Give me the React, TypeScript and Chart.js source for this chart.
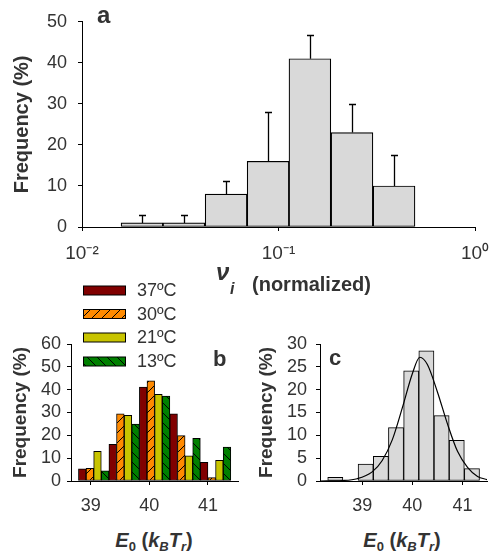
import React, { useEffect, useRef } from 'react';
import { Chart, registerables } from 'chart.js';

Chart.register(...registerables);

const FONT = "'Liberation Sans', Arial, Helvetica, sans-serif";
const TEXT = '#333333';

// ---------- Panel a : nu_i histogram (log axis) ----------
const nuBinCenters = [0.0202, 0.0330, 0.0541, 0.0885, 0.1445, 0.2366, 0.3873];
const nuFreq = [1, 1, 8, 16, 41, 23, 10];
const nuErrUpper = [3, 3, 11.3, 28, 46.7, 30, 17.6];
const nuTicks = [0.01, 0.1, 1];
const nuTickLabels = ['10\u207B\u00B2', '10\u207B\u00B9', '10\u2070'];

// ---------- Panel b : E0 by temperature ----------
const tempLabels = ['37\u00BAC', '30\u00BAC', '21\u00BAC', '13\u00BAC'];
const e0GroupCenters = [39.05, 39.57, 40.09, 40.61, 41.13];
const freq37 = [5.3, 16.1, 41.1, 29.4, 8.2];
const freq30 = [5.6, 29.4, 43.9, 19.9, 1.5];
const freq21 = [13.0, 28.8, 38.0, 11.0, 9.1];
const freq13 = [4.5, 24.9, 37.2, 18.7, 14.9];
const bTicks = [39, 40, 41];

// ---------- Panel c : pooled E0 histogram + fit ----------
const e0BinCenters = [38.465, 38.768, 39.07, 39.373, 39.675, 39.978, 40.28, 40.583, 40.885, 41.188];
const e0Freq = [0.8, 0, 3.7, 5.4, 11.7, 24.1, 28.5, 14.3, 8.9, 2.7];
const fitX = [38.16, 38.6, 38.9, 39.2, 39.4, 39.6, 39.8, 40.0, 40.15, 40.3, 40.5, 40.7, 40.9, 41.1, 41.3, 41.49];
const fitY = [0, 0.1, 0.5, 2.0, 4.5, 9.0, 16.0, 23.5, 27.1, 25.5, 19.5, 12.5, 6.5, 3.0, 1.0, 0.3];
const cTicks = [39, 40, 41];

function makeHatch(bg: string, dir: number): CanvasPattern | string {
  const c = document.createElement('canvas');
  c.width = 10;
  c.height = 10;
  const g = c.getContext('2d');
  if (!g) return bg;
  g.fillStyle = bg;
  g.fillRect(0, 0, 10, 10);
  g.strokeStyle = '#000';
  g.lineWidth = 1;
  g.beginPath();
  if (dir > 0) {
    g.moveTo(0, 10); g.lineTo(10, 0);
    g.moveTo(-1, 1); g.lineTo(1, -1);
    g.moveTo(9, 11); g.lineTo(11, 9);
  } else {
    g.moveTo(0, 0); g.lineTo(10, 10);
    g.moveTo(-1, 9); g.lineTo(1, 11);
    g.moveTo(9, -1); g.lineTo(11, 1);
  }
  g.stroke();
  return g.createPattern(c, 'repeat') || bg;
}

const tickFont = { family: FONT, size: 18 };
const titleFont = (size: number) => ({ family: FONT, size, weight: 'bold' as const });

function axisCommon() {
  return {
    grid: { drawOnChartArea: false, drawTicks: true, tickLength: 4, color: '#000', offset: false },
    border: { color: '#000', width: 1 },
  };
}

function fixX(height: number) {
  return (s: any) => {
    s.height = height;
    s.paddingLeft = 0;
    s.paddingRight = 0;
  };
}

export default function App() {
  const aRef = useRef<HTMLCanvasElement>(null);
  const bRef = useRef<HTMLCanvasElement>(null);
  const cRef = useRef<HTMLCanvasElement>(null);

  useEffect(() => {
    const charts: Chart[] = [];

    // Panel a
    const errorBars = {
      id: 'errorBars',
      afterDatasetsDraw(chart: any) {
        const { ctx, scales } = chart;
        const x = scales.x;
        const y = scales.y;
        ctx.save();
        ctx.strokeStyle = '#000';
        ctx.lineWidth = 1.3;
        nuBinCenters.forEach((c, i) => {
          const px = Math.round(x.getPixelForValue(c)) + 0.5;
          const y0 = y.getPixelForValue(nuFreq[i]);
          const y1 = Math.round(y.getPixelForValue(nuErrUpper[i])) + 0.5;
          ctx.beginPath();
          ctx.moveTo(px, y0);
          ctx.lineTo(px, y1);
          ctx.moveTo(px - 3.5, y1);
          ctx.lineTo(px + 3.5, y1);
          ctx.stroke();
        });
        ctx.restore();
      },
    };

    if (aRef.current) {
      charts.push(
        new Chart(aRef.current, {
          type: 'bar',
          data: {
            datasets: [
              {
                data: nuBinCenters.map((x, i) => ({ x, y: nuFreq[i] })),
                backgroundColor: '#d9d9d9',
                borderColor: '#000',
                borderWidth: 1.2,
                borderSkipped: false,
                barPercentage: 1,
                categoryPercentage: 1,
              } as any,
            ],
          },
          options: {
            animation: false,
            responsive: false,
            maintainAspectRatio: false,
            layout: { padding: { left: 0, right: 15, top: 16, bottom: 0 } },
            plugins: { legend: { display: false }, tooltip: { enabled: false } },
            scales: {
              x: {
                type: 'logarithmic',
                min: 0.01,
                max: 1,
                offset: false,
                afterBuildTicks: (s: any) => {
                  s.ticks = nuTicks.map((v) => ({ value: v }));
                },
                afterFit: fixX(35),
                ticks: {
                  autoSkip: false,
                  maxRotation: 0,
                  font: { family: FONT, size: 19 },
                  color: TEXT,
                  padding: 11,
                  callback: (_v: any, i: number) => nuTickLabels[i],
                },
                ...axisCommon(),
              },
              y: {
                min: 0,
                max: 50,
                afterFit: (s: any) => {
                  s.width = 82;
                },
                ticks: { stepSize: 10, autoSkip: false, font: tickFont, color: TEXT, padding: 11 },
                title: {
                  display: true,
                  text: 'Frequency (%)',
                  font: titleFont(20),
                  color: TEXT,
                  padding: { top: 10, bottom: 0 },
                },
                ...axisCommon(),
              },
            },
          } as any,
          plugins: [errorBars],
        })
      );
    }

    // Panel b
    if (bRef.current) {
      const fills: any[] = [
        '#800000',
        makeHatch('#ff8a00', 1),
        '#c8c400',
        makeHatch('#008000', -1),
      ];
      const series = [freq37, freq30, freq21, freq13];
      const legendPlugin = {
        id: 'tempLegend',
        afterDraw(chart: any) {
          const { ctx } = chart;
          ctx.save();
          const rows = [10.5, 34, 57.5, 81.5];
          tempLabels.forEach((lab, i) => {
            const yc = rows[i];
            ctx.fillStyle = fills[i];
            ctx.fillRect(83, yc - 4.5, 43, 9);
            ctx.strokeStyle = '#000';
            ctx.lineWidth = 1;
            ctx.strokeRect(83.5, yc - 4.5, 42, 9);
            ctx.fillStyle = TEXT;
            ctx.font = `18px ${FONT}`;
            ctx.textBaseline = 'middle';
            ctx.textAlign = 'left';
            ctx.fillText(lab, 137, yc + 1);
          });
          ctx.restore();
        },
      };
      charts.push(
        new Chart(bRef.current, {
          type: 'bar',
          data: {
            datasets: series.map((vals, k) => ({
              label: tempLabels[k],
              data: e0GroupCenters.map((x, i) => ({ x, y: vals[i] })),
              backgroundColor: fills[k],
              borderColor: '#000',
              borderWidth: 1,
              borderSkipped: false,
              barPercentage: 1,
              categoryPercentage: 1,
            })) as any,
          },
          options: {
            animation: false,
            responsive: false,
            maintainAspectRatio: false,
            layout: { padding: { left: 0, right: 12, top: 64, bottom: 0 } },
            plugins: { legend: { display: false }, tooltip: { enabled: false } },
            scales: {
              x: {
                type: 'linear',
                min: 38.663,
                max: 41.513,
                offset: false,
                afterBuildTicks: (s: any) => {
                  s.ticks = bTicks.map((v) => ({ value: v }));
                },
                afterFit: fixX(39),
                ticks: { autoSkip: false, maxRotation: 0, font: tickFont, color: TEXT, padding: 10 },
                ...axisCommon(),
              },
              y: {
                min: 0,
                max: 60,
                afterFit: (s: any) => {
                  s.width = 71;
                },
                ticks: { stepSize: 10, autoSkip: false, font: tickFont, color: TEXT, padding: 6 },
                title: {
                  display: true,
                  text: 'Frequency (%)',
                  font: titleFont(19),
                  color: TEXT,
                  padding: { top: 9, bottom: 0 },
                },
                ...axisCommon(),
              },
            },
          } as any,
          plugins: [legendPlugin],
        })
      );
    }

    // Panel c
    if (cRef.current) {
      charts.push(
        new Chart(cRef.current, {
          type: 'bar',
          data: {
            datasets: [
              {
                type: 'bar',
                data: e0BinCenters.map((x, i) => ({ x, y: e0Freq[i] })),
                backgroundColor: '#d9d9d9',
                borderColor: '#000',
                borderWidth: 1,
                borderSkipped: false,
                barPercentage: 1,
                categoryPercentage: 1,
                order: 2,
              },
              {
                type: 'line',
                data: fitX.map((x, i) => ({ x, y: fitY[i] })),
                borderColor: '#000',
                borderWidth: 1.2,
                pointRadius: 0,
                fill: false,
                cubicInterpolationMode: 'monotone',
                order: 1,
              },
            ] as any,
          },
          options: {
            animation: false,
            responsive: false,
            maintainAspectRatio: false,
            layout: { padding: { left: 0, right: 3, top: 44, bottom: 0 } },
            plugins: { legend: { display: false }, tooltip: { enabled: false } },
            scales: {
              x: {
                type: 'linear',
                min: 38.16,
                max: 41.488,
                offset: false,
                afterBuildTicks: (s: any) => {
                  s.ticks = cTicks.map((v) => ({ value: v }));
                },
                afterFit: fixX(39),
                ticks: { autoSkip: false, maxRotation: 0, font: tickFont, color: TEXT, padding: 10 },
                ...axisCommon(),
              },
              y: {
                min: 0,
                max: 30,
                afterFit: (s: any) => {
                  s.width = 70;
                },
                ticks: { stepSize: 5, autoSkip: false, font: tickFont, color: TEXT, padding: 9 },
                title: {
                  display: true,
                  text: 'Frequency (%)',
                  font: titleFont(19),
                  color: TEXT,
                  padding: { top: 5, bottom: 0 },
                },
                ...axisCommon(),
              },
            },
          } as any,
        })
      );
    }

    return () => {
      charts.forEach((c) => c.destroy());
    };
  }, []);

  const abs = (left: number, top: number, extra: React.CSSProperties = {}): React.CSSProperties => ({
    position: 'absolute',
    left,
    top,
    margin: 0,
    fontFamily: FONT,
    color: TEXT,
    lineHeight: 1,
    whiteSpace: 'nowrap',
    ...extra,
  });

  const subStyle: React.CSSProperties = {
    fontSize: 13,
    verticalAlign: -4,
    lineHeight: 0,
  };

  return (
    <div style={{ position: 'absolute', left: 0, top: 0, width: 490, height: 559, background: '#fff', overflow: 'hidden' }}>
      <canvas ref={aRef} width={490} height={262} style={{ position: 'absolute', left: 0, top: 0 }} />
      <canvas ref={bRef} width={250} height={240} style={{ position: 'absolute', left: 0, top: 280 }} />
      <canvas ref={cRef} width={240} height={220} style={{ position: 'absolute', left: 250, top: 300 }} />

      <div style={abs(97, 3, { fontSize: 24, fontWeight: 'bold' })}>a</div>
      <div style={abs(213, 348, { fontSize: 22, fontWeight: 'bold' })}>b</div>
      <div style={abs(329, 347, { fontSize: 22, fontWeight: 'bold' })}>c</div>

      <div style={abs(216, 260, { fontSize: 24, fontWeight: 'bold', fontStyle: 'italic' })}>ν</div>
      <div style={abs(230, 281, { fontSize: 16, fontWeight: 'bold', fontStyle: 'italic' })}>i</div>
      <div style={abs(252, 274, { fontSize: 20, fontWeight: 'bold' })}>(normalized)</div>

      <div style={abs(54, 530, { width: 200, textAlign: 'center', fontSize: 20, fontWeight: 'bold', lineHeight: '20px' })}>
        <i>E</i>
        <span style={subStyle}>0</span> (<i>k</i>
        <i style={subStyle}>B</i>
        <i>T</i>
        <i style={subStyle}>r</i>)
      </div>
      <div style={abs(302, 530, { width: 200, textAlign: 'center', fontSize: 20, fontWeight: 'bold', lineHeight: '20px' })}>
        <i>E</i>
        <span style={subStyle}>0</span> (<i>k</i>
        <i style={subStyle}>B</i>
        <i>T</i>
        <i style={subStyle}>r</i>)
      </div>
    </div>
  );
}
